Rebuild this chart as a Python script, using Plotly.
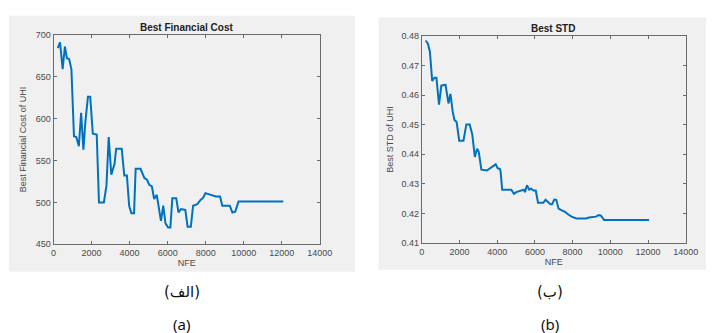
import plotly.graph_objects as go

# ---- data: panel (a) Best Financial Cost ----
nfe_cost = [222, 341, 478, 597, 700, 819, 939, 1075, 1195, 1331, 1450, 1570, 1672, 1809, 1928,
            2065, 2270, 2389, 2645, 2782, 2900, 3038, 3208, 3293, 3584, 3720, 3857, 3976, 4096,
            4232, 4317, 4573, 4778, 4915, 5034, 5171, 5290, 5427, 5648, 5768, 5887, 6024, 6143,
            6246, 6451, 6570, 6706, 6928, 7048, 7218, 7338, 7560, 7730, 7850, 7986, 8157, 8328,
            8532, 8754, 8874, 9266, 9403, 9556, 9727, 12082]
cost = [684, 691, 659, 686, 672, 671, 659, 579, 578, 567, 607, 563, 596, 626, 626,
        582, 581, 500, 500, 520, 578, 533, 546, 564, 564, 532, 532, 496, 487,
        487, 540, 540, 529, 527, 521, 519, 504, 509, 478, 496, 475, 470, 470,
        505, 505, 488, 492, 491, 471, 471, 496, 498, 503, 505, 511, 510, 509,
        507, 507, 496, 496, 488, 489, 501, 501]

# ---- data: panel (b) Best STD ----
nfe_std = [207, 328, 432, 553, 674, 777, 915, 1036, 1174, 1261, 1416, 1520, 1641, 1727, 1848,
           1986, 2211, 2366, 2539, 2677, 2815, 2936, 3022, 3161, 3454, 3627, 3800, 3921, 4024,
           4145, 4180, 4266, 4749, 4888, 5009, 5268, 5406, 5475, 5579, 5699, 5786, 5924, 6045,
           6166, 6442, 6563, 6822, 6908, 7029, 7133, 7254, 7427, 7599, 7772, 7945, 8204, 8549,
           8722, 8860, 9240, 9378, 9499, 9672, 12055]
std = [0.4785, 0.4774, 0.4746, 0.4648, 0.4659, 0.4659, 0.4568, 0.4632, 0.4634, 0.4635, 0.4572,
       0.4604, 0.4544, 0.4517, 0.4509, 0.4446, 0.4446, 0.4501, 0.4501, 0.4468, 0.4391, 0.4419,
       0.4408, 0.4348, 0.4345, 0.4353, 0.4358, 0.4366, 0.4353, 0.4350, 0.4342, 0.4280, 0.4280,
       0.4266, 0.4272, 0.4277, 0.4280, 0.4272, 0.4295, 0.4280, 0.4284, 0.4277, 0.4277, 0.4236,
       0.4236, 0.4246, 0.4231, 0.4231, 0.4247, 0.4246, 0.4216, 0.4210, 0.4205, 0.4196, 0.4189,
       0.4183, 0.4182, 0.4183, 0.4186, 0.4189, 0.4194, 0.4192, 0.4178, 0.4178]

x_ticks = [0, 2000, 4000, 6000, 8000, 10000, 12000, 14000]
cost_ticks = [450, 500, 550, 600, 650, 700]
std_ticks = [0.41, 0.42, 0.43, 0.44, 0.45, 0.46, 0.47, 0.48]

W, H = 719, 333
def px(x):
    return x / W
def py(y):
    return 1 - y / H

LINE = "#0072BD"
AXC = "#6b6b6b"
TXT = "#4a4a4a"
FONT = "Liberation Sans, Arial, sans-serif"

fig = go.Figure()
fig.add_trace(go.Scatter(x=nfe_cost, y=cost, mode="lines", line=dict(color=LINE, width=2),
                         xaxis="x", yaxis="y", showlegend=False))
fig.add_trace(go.Scatter(x=nfe_std, y=std, mode="lines", line=dict(color=LINE, width=2),
                         xaxis="x2", yaxis="y2", showlegend=False))

axis_common = dict(showgrid=False, zeroline=False, showline=True, linecolor=AXC, linewidth=1,
                   mirror="ticks", ticks="inside", ticklen=3, tickcolor=AXC,
                   tickfont=dict(family=FONT, size=9, color=TXT))

fig.update_layout(
    width=W, height=H, margin=dict(l=0, r=0, t=0, b=0),
    paper_bgcolor="white", plot_bgcolor="white",
    font=dict(family=FONT),
    xaxis=dict(domain=[px(51.7), px(324)], range=[0, 14000], tickvals=x_ticks, tickformat="d",
               title=dict(text="NFE", font=dict(family=FONT, size=9, color=TXT), standoff=2),
               anchor="y", **axis_common),
    yaxis=dict(domain=[py(246.7), py(30.7)], range=[450, 700], tickvals=cost_ticks,
               title=dict(text="Best Financial Cost of UHI", font=dict(family=FONT, size=9, color=TXT), standoff=7),
               anchor="x", **axis_common),
    xaxis2=dict(domain=[px(428.3), px(698.3)], range=[0, 14000], tickvals=x_ticks, tickformat="d",
                title=dict(text="NFE", font=dict(family=FONT, size=9, color=TXT), standoff=2),
                anchor="y2", **axis_common),
    yaxis2=dict(domain=[py(245.3), py(32)], range=[0.41, 0.48], tickvals=std_ticks,
                tickformat=".2f",
                title=dict(text="Best STD of UHI", font=dict(family=FONT, size=9, color=TXT), standoff=6),
                anchor="x2", **axis_common),
)

# gray figure backgrounds (MATLAB-style)
fig.add_shape(type="rect", xref="paper", yref="paper", x0=px(6), x1=px(360), y0=py(275), y1=py(11),
              fillcolor="#f0f0f0", line=dict(width=0), layer="below")
fig.add_shape(type="rect", xref="paper", yref="paper", x0=px(384), x1=px(719), y0=py(273), y1=py(12.7),
              fillcolor="#f0f0f0", line=dict(width=0), layer="below")

annos = [
    dict(text="<b>Best Financial Cost</b>", x=px(188), y=py(23.5), size=10, color="#222222", family=FONT),
    dict(text="<b>Best STD</b>", x=px(563), y=py(24.5), size=10, color="#222222", family=FONT),
    dict(text="(الف)", x=px(183), y=py(296), size=15, color="#111111", family="DejaVu Sans, Noto Sans"),
    dict(text="(ب)", x=px(559), y=py(296), size=15, color="#111111", family="DejaVu Sans, Noto Sans"),
    dict(text="(a)", x=px(183), y=py(329), size=15, color="#111111", family="Noto Sans, DejaVu Sans"),
    dict(text="(b)", x=px(559), y=py(329), size=15, color="#111111", family="Noto Sans, DejaVu Sans"),
]
for a in annos:
    fig.add_annotation(text=a["text"], x=a["x"], y=a["y"], xref="paper", yref="paper",
                       xanchor="center", yanchor="middle", showarrow=False,
                       font=dict(family=a["family"], size=a["size"], color=a["color"]))

fig.write_html("out.html")
